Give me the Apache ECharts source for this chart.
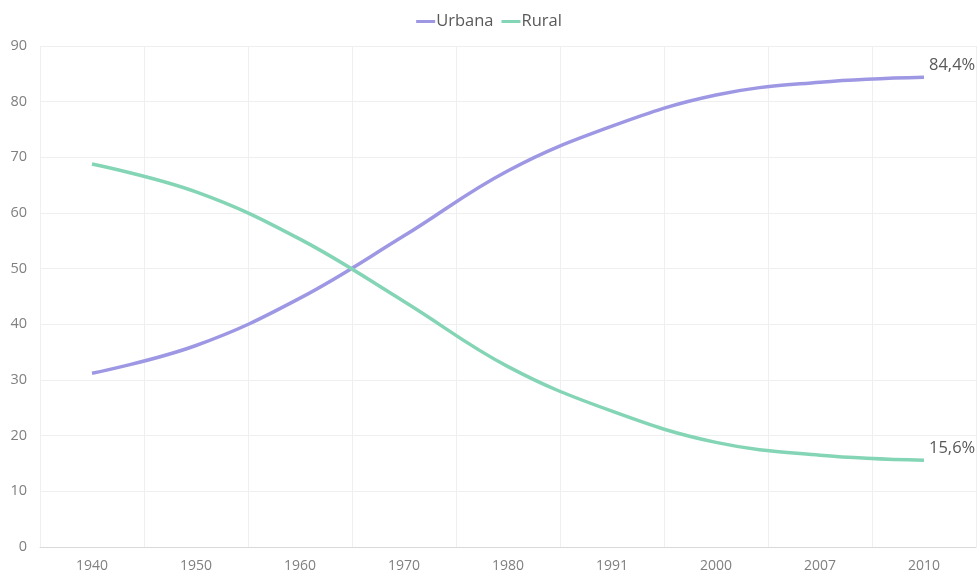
<!DOCTYPE html>
<html><head><meta charset="utf-8">
<script src="https://cdn.jsdelivr.net/npm/echarts@6/dist/echarts.min.js"></script>
<style>html,body{margin:0;padding:0;background:#fff}#c{width:978px;height:575px}</style>
</head><body><div id="c"></div>
<script>
const categories = ['1940','1950','1960','1970','1980','1991','2000','2007','2010'];
const urbana = [31.2, 36.2, 44.7, 55.9, 67.6, 75.6, 81.2, 83.5, 84.4];
const rural = [68.8, 63.8, 55.3, 44.1, 32.4, 24.4, 18.8, 16.5, 15.6];
const yTicks = {min: 0, max: 90, interval: 10};

const font = 'Open Sans, Noto Sans, sans-serif';
function endLabel() {
  return {show: true, distance: 5, offset: [0, -12],
    formatter: p => p.value.toFixed(1).replace('.', ',') + '%',
    color: '#595959', fontSize: 16.5, fontFamily: font};
}
const chart = echarts.init(document.getElementById('c'));
chart.setOption({
  animation: false,
  legend: {top: 8, left: 'center', icon: 'rect', itemWidth: 19, itemHeight: 3, itemGap: 8,
    textStyle: {color: '#595959', fontSize: 16.5, fontFamily: font, padding: [0, 0, 0, -4]},
    data: ['Urbana', 'Rural']},
  grid: {left: 40, right: 2, top: 46, bottom: 28},
  xAxis: {type: 'category', data: categories, boundaryGap: true,
    axisLine: {lineStyle: {color: '#d9d9d9'}}, axisTick: {show: false},
    axisLabel: {color: '#808080', fontSize: 14, fontFamily: font, margin: 12},
    splitLine: {show: true, lineStyle: {color: '#efefef'}}},
  yAxis: {type: 'value', min: yTicks.min, max: yTicks.max, interval: yTicks.interval,
    axisLine: {show: false}, axisTick: {show: false},
    axisLabel: {color: '#808080', fontSize: 14.5, fontFamily: font, margin: 13},
    splitLine: {lineStyle: {color: '#efefef'}}},
  series: [
    {name: 'Urbana', type: 'line', data: urbana, smooth: 0.4, symbol: 'none',
      endLabel: endLabel(),
      lineStyle: {width: 3.5, color: '#9e98e4'}, itemStyle: {color: '#9e98e4'}},
    {name: 'Rural', type: 'line', data: rural, smooth: 0.4, symbol: 'none',
      endLabel: endLabel(),
      lineStyle: {width: 3.5, color: '#84d5b5'}, itemStyle: {color: '#84d5b5'}}
  ]
});
</script></body></html>
